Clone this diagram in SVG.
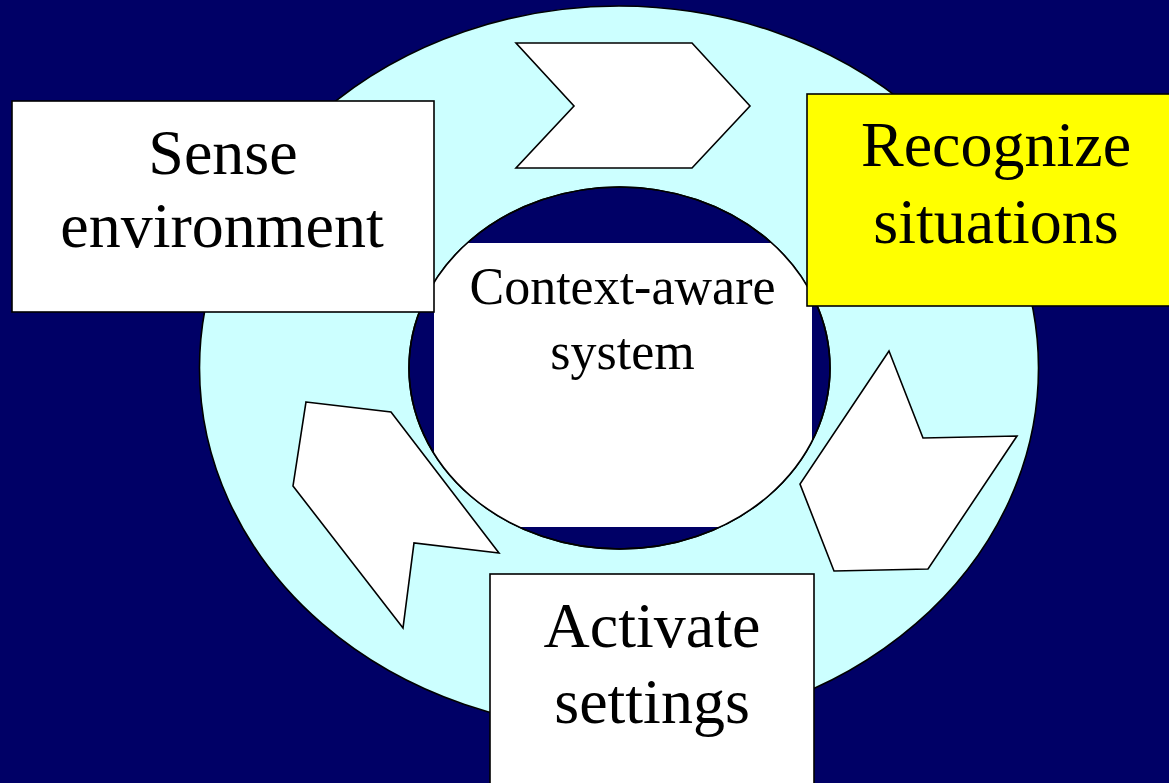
<svg xmlns="http://www.w3.org/2000/svg" width="1169" height="783" viewBox="0 0 1169 783">
  <style>
    .shape { stroke: #000; stroke-width: 1.6; stroke-linejoin: miter; }
    .white { fill: #ffffff; }
    .lbl { font-family: "Liberation Serif", "Times New Roman", serif; fill: #000; text-anchor: middle; }
    .big { font-size: 64px; }
    .mid { font-size: 52px; }
  </style>
  <defs>
    <clipPath id="innerClip">
      <ellipse cx="619.5" cy="368" rx="210.5" ry="181"/>
    </clipPath>
  </defs>
  <rect x="0" y="0" width="1169" height="783" fill="#000066"/>

  <g id="ring">
    <ellipse class="shape" cx="619" cy="368" rx="419.5" ry="362" fill="#ccffff"/>
    <ellipse class="shape" cx="619.5" cy="368" rx="210.5" ry="181" fill="#000066"/>
  </g>

  <g id="center">
    <rect x="434" y="243" width="378" height="284" fill="#ffffff" clip-path="url(#innerClip)"/>
    <ellipse class="shape" cx="619.5" cy="368" rx="210.5" ry="181" fill="none"/>
    <text class="lbl mid" x="622.5" y="304">Context-aware</text>
    <text class="lbl mid" x="622.5" y="369">system</text>
  </g>

  <g id="connectors">
    <polygon class="shape white" points="516,43 692,43 750,106 692,168 516,168 574,106"/>
    <polygon class="shape white" points="889,351 923,438 1017,436 928,569 834,571 800,484"/>
    <polygon class="shape white" points="306,402 391,412 499,553 414,543 403,628 293,486"/>
  </g>

  <g id="sense">
    <rect class="shape white" x="12" y="101" width="422" height="211"/>
    <text class="lbl big" x="223" y="174">Sense</text>
    <text class="lbl big" x="222" y="247">environment</text>
  </g>

  <g id="recognize">
    <rect class="shape" x="807" y="94" width="380" height="212" fill="#ffff00"/>
    <text class="lbl big" x="996" y="166">Recognize</text>
    <text class="lbl big" x="996" y="243">situations</text>
  </g>

  <g id="activate">
    <rect class="shape white" x="490" y="574" width="324" height="230"/>
    <text class="lbl big" x="652" y="647">Activate</text>
    <text class="lbl big" x="652" y="723">settings</text>
  </g>
</svg>
